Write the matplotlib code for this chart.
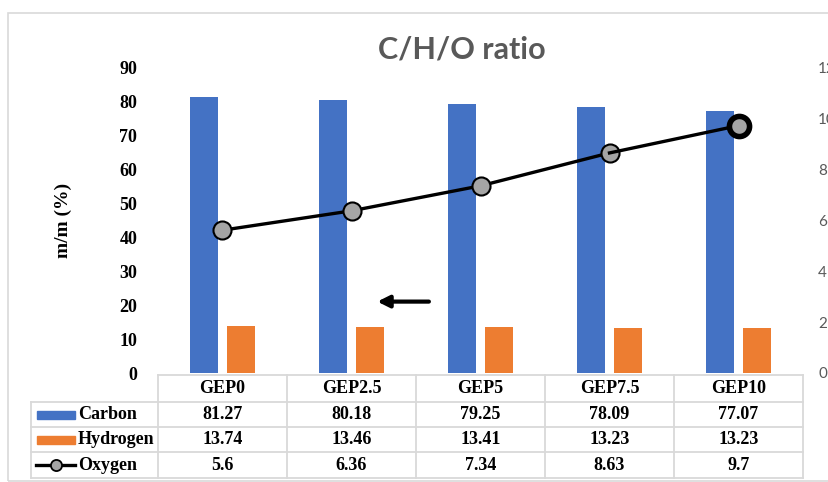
import matplotlib.pyplot as plt
from matplotlib.lines import Line2D
from matplotlib.patches import Rectangle
import matplotlib.transforms as mtransforms
import numpy as np

# data
samples = ['GEP0', 'GEP2.5', 'GEP5', 'GEP7.5', 'GEP10']
carbon = [81.27, 80.18, 79.25, 78.09, 77.07]
hydrogen = [13.74, 13.46, 13.41, 13.23, 13.23]
oxygen = [5.6, 6.36, 7.34, 8.63, 9.7]
carbon_lbl = ['81.27', '80.18', '79.25', '78.09', '77.07']
hydrogen_lbl = ['13.74', '13.46', '13.41', '13.23', '13.23']
oxygen_lbl = ['5.6', '6.36', '7.34', '8.63', '9.7']

W, H = 829, 482
blue = '#4472C4'
orange = '#ED7D31'
grid_c = '#d9d9d9'
serif = 'Liberation Serif'


def fx(px):  # pixel -> figure fraction
    return px / W


def fy(py):
    return 1 - py / H


fig = plt.figure(figsize=(W / 100, H / 100), dpi=100)

# chart border (cropped on the right)
fig.add_artist(Rectangle((fx(8), fy(481)), 1.2, fy(13) - fy(481), transform=fig.transFigure,
                         fill=False, edgecolor=grid_c, lw=1.2))

ax = fig.add_axes([fx(158), fy(373), fx(803) - fx(158), fy(67) - fy(373)])
ax2 = ax.twinx()

x = np.arange(len(samples))
bw = 0.215
ax.bar(x - 0.143, carbon, bw, color=blue, zorder=2)
ax.bar(x + 0.143, hydrogen, bw, color=orange, zorder=2)

ax2.plot(x[:-1], oxygen[:-1], color='black', lw=2.4, marker='o', ms=13,
         mfc='#a5a5a5', mec='black', mew=1.5, zorder=3)
ax2.plot(x[-2:], oxygen[-2:], color='black', lw=2.4, zorder=3)
ax2.plot(x[-1], oxygen[-1], marker='o', ms=14.5, mfc='#a5a5a5', mec='black', mew=4, zorder=4)

ax.set_xlim(-0.5, 4.5)
ax.set_ylim(0, 90)
ax.set_yticks(np.arange(0, 91, 10))
ax2.set_ylim(0, 12)
ax2.set_yticks(np.arange(0, 13, 2))
ax.set_xticks([])

for a in (ax, ax2):
    for s in a.spines.values():
        s.set_visible(False)
ax.tick_params(axis='y', length=0, pad=15)
ax2.tick_params(axis='y', length=0, pad=11, labelcolor='#595959', labelsize=11)
for t in ax.get_yticklabels():
    t.set_fontfamily(serif)
    t.set_fontweight('bold')
    t.set_fontsize(13)
for t in ax2.get_yticklabels():
    t.set_fontfamily('Lato')

ax.set_ylabel('m/m (%)', fontfamily=serif, fontweight='bold', fontsize=14, labelpad=34)

ax.annotate('', xy=(1.2, 21), xytext=(1.6, 21),
            arrowprops=dict(arrowstyle='-|>,head_length=0.7,head_width=0.35',
                            color='black', lw=3, shrinkA=0, shrinkB=0))

fig.text(0.557, fy(50), 'C/H/O ratio', ha='center', va='center', fontsize=22,
         fontweight='bold', color='#595959', fontfamily='Lato')

# data table under the axis
tr = mtransforms.blended_transform_factory(ax.transData, fig.transFigure)
rows_y = [375, 402, 427, 452, 478]
left_px = 31
lw_t = 1.3
for i, py in enumerate(rows_y):
    x0 = 158 if i == 0 else left_px
    fig.add_artist(Line2D([fx(x0), fx(803)], [fy(py), fy(py)], transform=fig.transFigure,
                          color=grid_c, lw=lw_t))
for b in np.arange(-0.5, 5.0, 1.0):
    ax.add_artist(Line2D([b, b], [fy(375), fy(478)], transform=tr, color=grid_c, lw=lw_t,
                         clip_on=False))
fig.add_artist(Line2D([fx(left_px), fx(left_px)], [fy(402), fy(478)], transform=fig.transFigure,
                      color=grid_c, lw=lw_t))

tkw = dict(ha='center', va='center', fontfamily=serif, fontweight='bold', fontsize=13,
           transform=tr)
row_vals = [samples, carbon_lbl, hydrogen_lbl, oxygen_lbl]
for r, vals in enumerate(row_vals):
    cy = fy((rows_y[r] + rows_y[r + 1]) / 2)
    for i, v in enumerate(vals):
        ax.text(x[i], cy, v, **tkw)

# legend keys in the first column
names = ['Carbon', 'Hydrogen', 'Oxygen']
for r, name in enumerate(names):
    cy = fy((rows_y[r + 1] + rows_y[r + 2]) / 2)
    fig.text(fx(78), cy, name, ha='left', va='center', fontfamily=serif, fontweight='bold',
             fontsize=13)
hk = 8 / H
fig.add_artist(Rectangle((fx(37), fy(414.5) - hk / 2), fx(75) - fx(37), hk,
                         transform=fig.transFigure, color=blue))
fig.add_artist(Rectangle((fx(37), fy(439.5) - hk / 2), fx(75) - fx(37), hk,
                         transform=fig.transFigure, color=orange))
fig.add_artist(Line2D([fx(36), fx(75)], [fy(465), fy(465)], transform=fig.transFigure,
                      color='black', lw=2.4))
fig.add_artist(Line2D([fx(56)], [fy(465)], transform=fig.transFigure, marker='o', ms=8,
                      mfc='#a5a5a5', mec='black', mew=1.3))

fig.savefig('out.png', dpi=100)
